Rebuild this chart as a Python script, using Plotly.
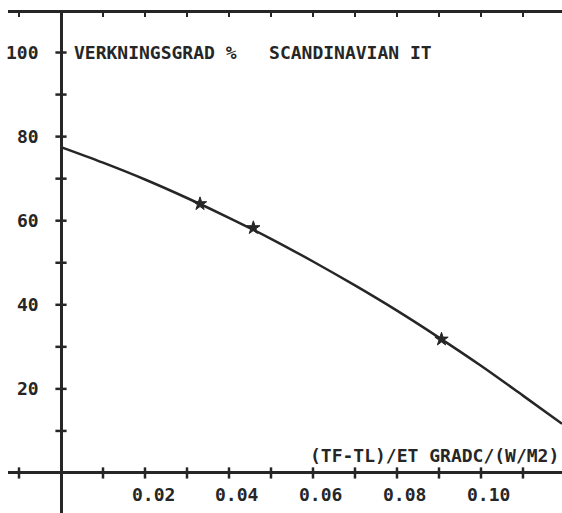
import plotly.graph_objects as go

# Curve (x = (TF-TL)/ET, y = efficiency %)
curve_x = [0.0, 0.01, 0.02, 0.03, 0.04, 0.05, 0.06, 0.07, 0.08, 0.09, 0.10, 0.11, 0.1193]
curve_y = [77.5, 73.8, 69.8, 65.4, 60.7, 55.7, 50.3, 44.6, 38.6, 32.2, 25.5, 18.4, 11.7]

# Measured points (star markers)
meas_x = [0.0331, 0.0458, 0.0906]
meas_y = [64.0, 58.3, 31.8]

# Axis ticks and labels
x_tick_vals = [-0.01, 0.01, 0.02, 0.03, 0.04, 0.05, 0.06, 0.07, 0.08, 0.09, 0.10, 0.11]
x_label_vals = [0.02, 0.04, 0.06, 0.08, 0.10]
x_label_text = ["0.02", "0.04", "0.06", "0.08", "0.10"]
y_tick_vals = [10, 20, 30, 40, 50, 60, 70, 80, 90, 100]
y_label_vals = [20, 40, 60, 80, 100]
y_label_text = ["20", "40", "60", "80", "100"]

title_text = "VERKNINGSGRAD %   SCANDINAVIAN IT"
x_title_text = "(TF-TL)/ET GRADC/(W/M2)"

INK = "#262626"
FONT = dict(family="DejaVu Sans Mono", size=18, color=INK, weight="bold")

fig = go.Figure()

# tick marks crossing the x axis (at y = 0)
fig.add_trace(go.Scatter(
    x=x_tick_vals, y=[0] * len(x_tick_vals), mode="markers",
    marker=dict(symbol="line-ns", size=8, line=dict(width=2.5, color=INK)),
    hoverinfo="skip", showlegend=False))
# tick marks crossing the y axis (at x = 0)
fig.add_trace(go.Scatter(
    x=[0] * len(y_tick_vals), y=y_tick_vals, mode="markers",
    marker=dict(symbol="line-ew", size=8, line=dict(width=2.5, color=INK)),
    hoverinfo="skip", showlegend=False))

# efficiency curve
fig.add_trace(go.Scatter(
    x=curve_x, y=curve_y, mode="lines",
    line=dict(color=INK, width=2.5, shape="spline"),
    showlegend=False))
# measured points
fig.add_trace(go.Scatter(
    x=meas_x, y=meas_y, mode="markers",
    marker=dict(symbol="star", size=10, color=INK, line=dict(width=1, color=INK)),
    showlegend=False))

annotations = []
for v, t in zip(x_label_vals, x_label_text):
    annotations.append(dict(x=v, y=0, xref="x", yref="y", text=t, showarrow=False,
                            xanchor="center", yanchor="middle", xshift=8, yshift=-22,
                            font=FONT))
for v, t in zip(y_label_vals, y_label_text):
    annotations.append(dict(x=0, y=v, xref="x", yref="y", text=t, showarrow=False,
                            xanchor="right", yanchor="middle", xshift=-20,
                            font=FONT))
annotations.append(dict(x=0.0026, y=100, xref="x", yref="y", text=title_text,
                        showarrow=False, xanchor="left", yanchor="middle", font=FONT))
annotations.append(dict(x=0.0588, y=4.2, xref="x", yref="y", text=x_title_text,
                        showarrow=False, xanchor="left", yanchor="middle", font=FONT))

fig.update_layout(
    width=562, height=513,
    margin=dict(l=8, r=0, t=13, b=0),
    paper_bgcolor="white", plot_bgcolor="white",
    annotations=annotations,
    xaxis=dict(range=[-0.01262, 0.11929], side="top", showline=True, linecolor=INK,
               linewidth=2.5, ticks="inside", ticklen=4, tickwidth=2, tickcolor=INK,
               tickvals=x_tick_vals, showticklabels=False, showgrid=False,
               zeroline=True, zerolinecolor=INK, zerolinewidth=2.5),
    yaxis=dict(range=[-9.52, 109.4], showline=False, showticklabels=False,
               ticks="", showgrid=False,
               zeroline=True, zerolinecolor=INK, zerolinewidth=2.5),
)

fig.write_html("out.html")
